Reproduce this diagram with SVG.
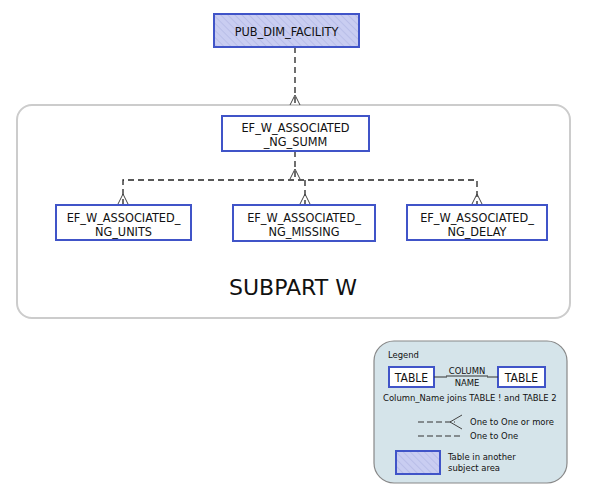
<svg xmlns="http://www.w3.org/2000/svg" width="591" height="501" viewBox="0 0 591 501">
<defs>
<pattern id="hatch" width="5" height="5" patternUnits="userSpaceOnUse" patternTransform="rotate(-45)">
<rect width="5" height="5" fill="#c9cdf1"/>
<line x1="0" y1="0" x2="0" y2="5" stroke="#b4b9e6" stroke-width="1.5"/>
</pattern>
<style>
.tbl{fill:#fff;stroke:#4054c8;stroke-width:2}
.ext{fill:url(#hatch);stroke:#4054c8;stroke-width:2}
.t{font-family:"DejaVu Sans Condensed","DejaVu Sans",sans-serif;font-stretch:condensed;font-size:12.6px;fill:#111;text-anchor:middle}
.rel{fill:none;stroke:#222;stroke-width:1.3;stroke-dasharray:6,4}
.cf{fill:none;stroke:#444;stroke-width:1}
.lg{font-family:"DejaVu Sans Condensed","DejaVu Sans",sans-serif;font-stretch:condensed;font-size:9.4px;fill:#111}
.lt{font-family:"DejaVu Sans Condensed","DejaVu Sans",sans-serif;font-stretch:condensed;font-size:12px;fill:#111;text-anchor:middle}
</style>
</defs>
<rect width="591" height="501" fill="#fff"/>
<g id="subpart-w">
<rect x="17" y="105" width="553" height="213" rx="15" fill="#fff" stroke="#cccccc" stroke-width="2"/>
<text x="293" y="295" font-family="DejaVu Sans,Verdana,sans-serif" font-size="22" text-anchor="middle" fill="#111">SUBPART W</text>
</g>
<g id="connectors">
<path class="rel" d="M295,47 V105"/>
<path class="cf" d="M290,105 L295,95 L300,105"/>
<path class="rel" d="M295,151 V180"/>
<path class="cf" d="M290,179 L295,169 L300,179"/>
<path class="rel" d="M123,205 V180 H477 V205"/>
<path class="rel" d="M305,180 V205"/>
<path class="cf" d="M118,204 L123,194 L128,204"/>
<path class="cf" d="M300,204 L305,194 L310,204"/>
<path class="cf" d="M472,204 L477,194 L482,204"/>
</g>
<g id="PUB_DIM_FACILITY">
<rect class="ext" x="214" y="14" width="145" height="33"/>
<text class="t" x="286.5" y="35.5">PUB_DIM_FACILITY</text>
</g>
<g id="EF_W_ASSOCIATED_NG_SUMM">
<rect class="tbl" x="222" y="116" width="147" height="35"/>
<text class="t" x="295.5" y="132">EF_W_ASSOCIATED</text>
<text class="t" x="295.5" y="146">_NG_SUMM</text>
</g>
<g id="EF_W_ASSOCIATED_NG_UNITS">
<rect class="tbl" x="56" y="205" width="135" height="35"/>
<text class="t" x="123.5" y="221.5">EF_W_ASSOCIATED_</text>
<text class="t" x="123.5" y="235.5">NG_UNITS</text>
</g>
<g id="EF_W_ASSOCIATED_NG_MISSING">
<rect class="tbl" x="233" y="205" width="142" height="36"/>
<text class="t" x="304" y="221.5">EF_W_ASSOCIATED_</text>
<text class="t" x="304" y="235.5">NG_MISSING</text>
</g>
<g id="EF_W_ASSOCIATED_NG_DELAY">
<rect class="tbl" x="407" y="205" width="140" height="35"/>
<text class="t" x="477" y="221.5">EF_W_ASSOCIATED_</text>
<text class="t" x="477" y="235.5">NG_DELAY</text>
</g>
<g id="legend">
<rect x="374" y="341" width="193" height="142" rx="20" fill="#d5e4ea" stroke="#888" stroke-width="1.2"/>
<text class="lg" x="388" y="358">Legend</text>
<rect x="389" y="367" width="45" height="20" fill="#fff" stroke="#4054c8" stroke-width="2"/>
<text class="lt" x="411.5" y="381.5">TABLE</text>
<rect x="498" y="367" width="47" height="20" fill="#fff" stroke="#4054c8" stroke-width="2"/>
<text class="lt" x="521.5" y="381.5">TABLE</text>
<path d="M434,377 H447 M446,376 H488 M487,377 H498" stroke="#333" stroke-width="1" fill="none"/>
<text class="lg" x="467" y="374" text-anchor="middle">COLUMN</text>
<text class="lg" x="467" y="386" text-anchor="middle">NAME</text>
<text class="lg" x="383" y="401">Column_Name joins TABLE ! and TABLE 2</text>
<path d="M418,422 H455" stroke="#333" stroke-width="1" stroke-dasharray="6,3" fill="none"/>
<path d="M462,415 L450,422 L462,429" class="cf"/>
<text class="lg" x="470" y="425">One to One or more</text>
<path d="M418,436 H461" stroke="#333" stroke-width="1" stroke-dasharray="6,3" fill="none"/>
<text class="lg" x="470" y="439">One to One</text>
<rect x="396" y="451" width="44" height="23" fill="url(#hatch)" stroke="#4054c8" stroke-width="2"/>
<text class="lg" x="448" y="460">Table in another</text>
<text class="lg" x="448" y="471">subject area</text>
</g>
</svg>
